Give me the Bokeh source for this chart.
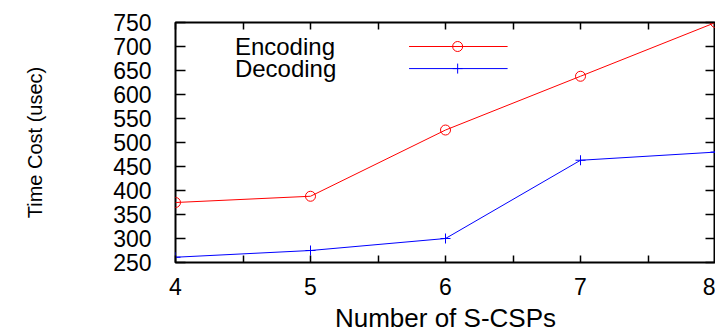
from bokeh.plotting import figure
from bokeh.models import LinearAxis, FixedTicker, Range1d, Label, CustomJSTickFormatter
from bokeh.embed import file_html
from bokeh.resources import INLINE

# ---- data ----
n_scsps = [4, 5, 6, 7, 8]
encoding = [375, 388, 526, 638, 750]
decoding = [261, 275, 300, 463, 480]
x_ticks = [4, 5, 6, 7, 8]
x_minor_ticks = [4.5, 5.5, 6.5, 7.5]
y_ticks = [250, 300, 350, 400, 450, 500, 550, 600, 650, 700, 750]
series_names = ["Encoding", "Decoding"]

FONT = "Liberation Sans"

p = figure(frame_width=540, frame_height=240, output_backend="svg", toolbar_location=None,
           x_range=Range1d(4, 8), y_range=Range1d(250, 750),
           min_border_left=175, min_border_right=0, min_border_top=22, min_border_bottom=0)
p.xgrid.visible = False
p.ygrid.visible = False
p.outline_line_color = "black"
p.outline_line_width = 2
p.background_fill_color = "white"
p.border_fill_color = "white"

xt = FixedTicker(ticks=x_ticks, minor_ticks=x_minor_ticks)
yt = FixedTicker(ticks=y_ticks, minor_ticks=[])

def style_axis(ax, horizontal):
    ax.axis_line_color = None
    ax.major_tick_out = 0
    ax.minor_tick_out = 0
    ax.major_tick_in = 7 if horizontal else 10
    ax.minor_tick_in = 7 if horizontal else 0
    ax.major_tick_line_width = 1.5
    ax.minor_tick_line_width = 1.5
    ax.major_tick_line_color = "black"
    ax.minor_tick_line_color = "black"
    ax.major_label_text_font = FONT
    ax.major_label_text_color = "black"
    ax.axis_label_text_font = FONT
    ax.axis_label_text_font_style = "normal"
    ax.axis_label_text_color = "black"

xa = p.xaxis[0]
xa.ticker = xt
style_axis(xa, True)
xa.major_label_text_font_size = "23px"
xa.major_label_standoff = 15
xa.axis_label = "Number of S-CSPs"
xa.axis_label_text_font_size = "26px"
xa.axis_label_standoff = 5

ya = p.yaxis[0]
ya.ticker = yt
style_axis(ya, False)
ya.major_label_text_font_size = "23px"
ya.major_label_standoff = 24
ya.axis_label = "Time Cost (usec)"
ya.axis_label_text_font_size = "20px"
ya.axis_label_standoff = 64

blank = CustomJSTickFormatter(code="return ''")
top = LinearAxis(ticker=FixedTicker(ticks=x_ticks, minor_ticks=x_minor_ticks), formatter=blank)
style_axis(top, True)
top.major_label_standoff = 0
top.major_label_text_font_size = "0px"
p.add_layout(top, "above")

right = LinearAxis(ticker=FixedTicker(ticks=y_ticks, minor_ticks=[]), formatter=blank)
style_axis(right, False)
right.major_label_standoff = 0
right.major_label_text_font_size = "0px"
p.add_layout(right, "right")

# series
p.line(n_scsps, encoding, line_color="red", line_width=1)
p.scatter(n_scsps, encoding, marker="circle", size=10, fill_color=None, line_color="red", line_width=1)
p.line(n_scsps, decoding, line_color="blue", line_width=1)
p.scatter(n_scsps, decoding, marker="cross", size=10, line_color="blue", line_width=1)

# legend (text on left, sample on right, as in the original)
leg_text_x = 4.44
leg_line_x = [5.73, 6.46]
leg_mark_x = [6.09]
leg_y = [700, 654]
colors = ["red", "blue"]
markers = ["circle", "cross"]
for name, yy, c, m in zip(series_names, leg_y, colors, markers):
    p.add_layout(Label(x=leg_text_x, y=yy, text=name, text_font=FONT, text_font_size="24px",
                       text_baseline="middle", text_align="left", text_color="black"))
    p.line(leg_line_x, [yy, yy], line_color=c, line_width=1)
    if m == "circle":
        p.scatter(leg_mark_x, [yy], marker=m, size=10, fill_color=None, line_color=c, line_width=1)
    else:
        p.scatter(leg_mark_x, [yy], marker=m, size=10, line_color=c, line_width=1)

open("out.html", "w").write(file_html(p, INLINE))
